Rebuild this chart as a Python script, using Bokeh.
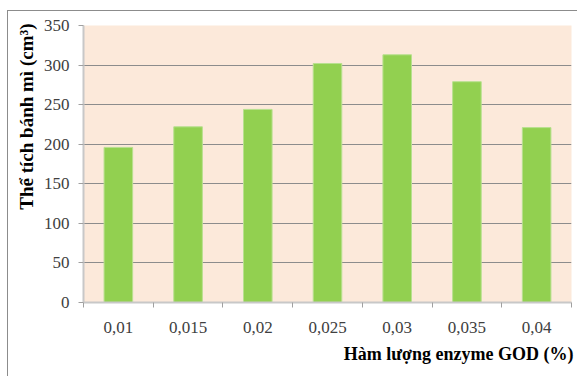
from bokeh.plotting import figure
from bokeh.models import FixedTicker, Range1d, Title
from bokeh.embed import file_html
from bokeh.resources import INLINE

categories = ["0,01", "0,015", "0,02", "0,025", "0,03", "0,035", "0,04"]
volumes = [196, 222, 244, 302, 313, 279, 221]
y_ticks = [0, 50, 100, 150, 200, 250, 300, 350]
y_title = "Thể tích bánh mì (cm³)"
x_title = "Hàm lượng enzyme GOD (%)"

FONT = "Liberation Serif"
n = len(categories)
xs = [i + 0.5 for i in range(n)]

OX, OY = 8, 11  # canvas offset inside the outer border

p = figure(width=578 - OX, height=377 - OY, output_backend="svg", toolbar_location=None,
           x_range=Range1d(0, n), y_range=Range1d(0, 350),
           min_border_left=83 - OX, min_border_right=7, min_border_top=25 - OY,
           min_border_bottom=75)
p.styles = {"margin-left": "7px", "margin-top": "10px",
            "border-left": "1px solid #8c8c8c", "border-top": "1px solid #8c8c8c"}
p.background_fill_color = "#fce9da"
p.border_fill_color = "white"
p.outline_line_color = None

p.vbar(x=xs, top=volumes, width=0.41, fill_color="#92d050", line_color="#b8e08f", line_width=1)

p.yaxis.ticker = FixedTicker(ticks=y_ticks, minor_ticks=[])
p.xaxis.ticker = FixedTicker(ticks=xs, minor_ticks=list(range(n + 1)))
p.xaxis.major_label_overrides = {x: c for x, c in zip(xs, categories)}
for ax in (p.xaxis[0], p.yaxis[0]):
    ax.major_label_text_font = FONT
    ax.major_label_text_font_size = "17px"
    ax.major_label_text_color = "#404040"
    ax.axis_line_color = "#c8c8c8"
    ax.axis_line_width = 2
    ax.axis_label_standoff = 0

p.yaxis.major_tick_line_color = "#a0a0a0"
p.yaxis.major_tick_out = 5
p.yaxis.major_tick_in = 0
p.yaxis.major_label_standoff = 9

p.xaxis.major_tick_line_color = None
p.xaxis.minor_tick_line_color = "#a0a0a0"
p.xaxis.minor_tick_out = 5
p.xaxis.minor_tick_in = 0
p.xaxis.major_label_standoff = 13

p.xgrid.grid_line_color = None
p.ygrid.ticker = FixedTicker(ticks=y_ticks)
p.ygrid.grid_line_color = "#8c8c8c"
p.ygrid.grid_line_width = 1

p.add_layout(Title(text=y_title, align="right", standoff=8, offset=-2,
                   text_font=FONT, text_font_style="bold", text_font_size="19px",
                   text_color="black"), "left")
p.add_layout(Title(text=x_title, align="right", standoff=12, offset=-2,
                   text_font=FONT, text_font_style="bold", text_font_size="18px",
                   text_color="black"), "below")

open("out.html", "w").write(file_html(p, INLINE))
